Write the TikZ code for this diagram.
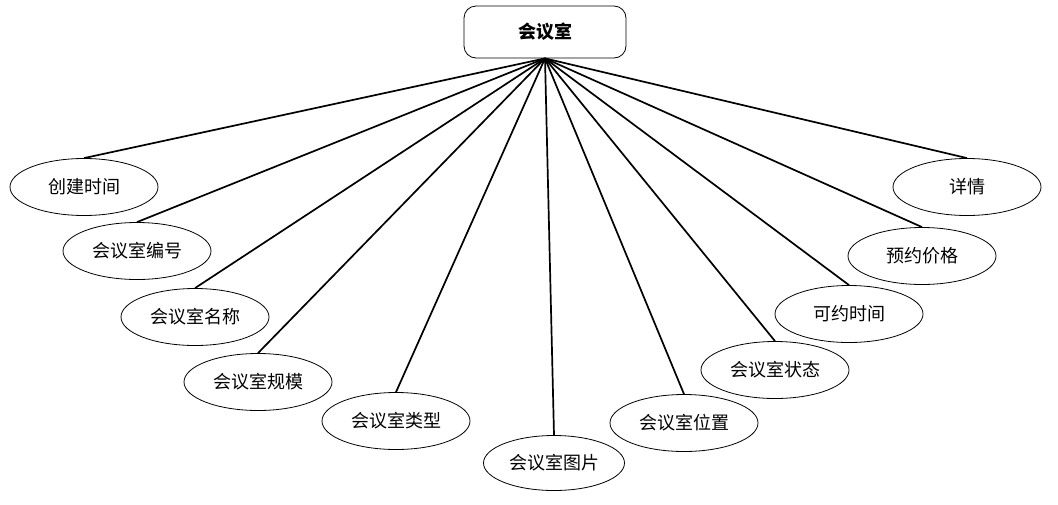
\documentclass[tikz,border=0pt]{standalone}
\usepackage{fontspec}
\setmainfont{Noto Sans CJK SC}
\usetikzlibrary{shapes.geometric}

\tikzset{
    entity/.style={draw, rounded corners=12pt, line width=0.8pt, minimum width=162pt, minimum height=52pt, font=\fontsize{18}{20}\selectfont\bfseries},
    attr/.style={draw, ellipse, line width=0.8pt, inner sep=0pt, minimum width=148pt, minimum height=57pt, font=\fontsize{18}{20}\selectfont},
    link/.style={line width=1.7pt}
}

\begin{document}
\begin{tikzpicture}[x=1pt,y=-1pt]
    \useasboundingbox (0,0) rectangle (1058,504);
    \node[entity] (room) at (545,32) {会议室};

    \node[attr] (ctime) at (84,187) {创建时间};
    \node[attr] (rid) at (137,251) {会议室编号};
    \node[attr] (rname) at (195,317) {会议室名称};
    \node[attr] (rsize) at (258,382) {会议室规模};
    \node[attr] (rtype) at (396,421) {会议室类型};
    \node[attr, minimum width=141pt, minimum height=55pt] (rpic) at (554,463) {会议室图片};
    \node[attr] (rloc) at (684,423) {会议室位置};
    \node[attr] (rstate) at (775,370) {会议室状态};
    \node[attr] (rtime) at (849,314) {可约时间};
    \node[attr] (rprice) at (922,256) {预约价格};
    \node[attr] (rdetail) at (967,187) {详情};

    \draw[link] (room.south) -- (ctime.north);
    \draw[link] (room.south) -- (rid.north);
    \draw[link] (room.south) -- (rname.north);
    \draw[link] (room.south) -- (rsize.north);
    \draw[link] (room.south) -- (rtype.north);
    \draw[link] (room.south) -- (rpic.north);
    \draw[link] (room.south) -- (rloc.north);
    \draw[link] (room.south) -- (rstate.north);
    \draw[link] (room.south) -- (rtime.north);
    \draw[link] (room.south) -- (rprice.north);
    \draw[link] (room.south) -- (rdetail.north);
\end{tikzpicture}
\end{document}
